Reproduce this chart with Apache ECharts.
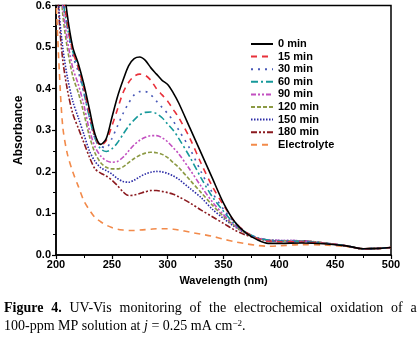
<!DOCTYPE html>
<html>
<head>
<meta charset="utf-8">
<script src="https://cdn.jsdelivr.net/npm/echarts@6/dist/echarts.min.js"></script>
<style>html,body{margin:0;padding:0;background:#fff;}#c{width:420px;height:342px;}</style>
</head>
<body>
<div id="c"></div>
<script>
const wavelengths = [200,203,206,210,215,220,225,230,235,240,245,250,255,260,265,270,275,280,285,290,295,300,305,310,320,330,340,350,360,370,380,390,400,420,440,460,475,490,500];
const seriesNames = ['0 min','15 min','30 min','60 min','90 min','120 min','150 min','180 min','Electrolyte'];
const min0   = [0.90,0.80,0.68,0.58,0.50,0.46,0.41,0.35,0.29,0.266,0.28,0.33,0.38,0.42,0.455,0.472,0.476,0.468,0.45,0.435,0.42,0.41,0.39,0.365,0.305,0.245,0.185,0.125,0.08,0.053,0.037,0.028,0.028,0.029,0.027,0.022,0.015,0.016,0.018];
const min15  = [0.85,0.75,0.64,0.56,0.49,0.45,0.40,0.34,0.285,0.263,0.275,0.31,0.35,0.39,0.415,0.43,0.435,0.432,0.42,0.40,0.385,0.37,0.35,0.33,0.28,0.22,0.165,0.12,0.08,0.055,0.04,0.033,0.032,0.031,0.028,0.022,0.015,0.016,0.018];
const min30  = [0.85,0.74,0.63,0.55,0.48,0.44,0.39,0.33,0.28,0.262,0.258,0.28,0.31,0.34,0.365,0.385,0.393,0.393,0.385,0.37,0.355,0.34,0.322,0.30,0.255,0.20,0.15,0.11,0.078,0.055,0.04,0.034,0.033,0.032,0.028,0.022,0.015,0.016,0.018];
const min60  = [0.85,0.74,0.62,0.55,0.49,0.45,0.39,0.33,0.28,0.255,0.249,0.255,0.27,0.29,0.31,0.325,0.337,0.343,0.344,0.34,0.33,0.315,0.30,0.28,0.235,0.185,0.14,0.105,0.075,0.055,0.042,0.036,0.034,0.033,0.029,0.022,0.015,0.016,0.018];
const min90  = [0.82,0.72,0.60,0.52,0.45,0.41,0.36,0.30,0.26,0.238,0.227,0.223,0.225,0.235,0.25,0.265,0.276,0.283,0.287,0.287,0.282,0.272,0.258,0.243,0.205,0.165,0.128,0.097,0.072,0.053,0.042,0.036,0.035,0.034,0.029,0.022,0.015,0.016,0.018];
const min120 = [0.80,0.70,0.58,0.50,0.43,0.39,0.34,0.285,0.245,0.222,0.211,0.207,0.207,0.212,0.222,0.232,0.24,0.245,0.247,0.246,0.242,0.234,0.222,0.21,0.18,0.15,0.12,0.093,0.07,0.052,0.041,0.035,0.034,0.034,0.029,0.022,0.015,0.016,0.018];
const min150 = [0.75,0.58,0.50,0.43,0.37,0.33,0.29,0.25,0.225,0.21,0.203,0.195,0.184,0.177,0.175,0.18,0.188,0.195,0.199,0.201,0.20,0.196,0.19,0.182,0.16,0.138,0.11,0.088,0.068,0.052,0.041,0.036,0.035,0.034,0.029,0.022,0.015,0.016,0.018];
const min180 = [0.72,0.56,0.47,0.40,0.34,0.305,0.27,0.235,0.207,0.197,0.19,0.18,0.167,0.152,0.143,0.144,0.148,0.152,0.155,0.155,0.153,0.15,0.146,0.14,0.125,0.108,0.092,0.076,0.06,0.048,0.04,0.035,0.034,0.034,0.029,0.022,0.015,0.016,0.018];
const electrolyte = [0.62,0.44,0.31,0.245,0.20,0.165,0.13,0.108,0.09,0.08,0.072,0.066,0.062,0.06,0.059,0.059,0.06,0.061,0.062,0.063,0.063,0.063,0.062,0.06,0.055,0.05,0.045,0.038,0.032,0.027,0.023,0.021,0.022,0.025,0.024,0.02,0.015,0.016,0.018];
const xTicks = [200,250,300,350,400,450,500];
const yTicks = [0.0,0.1,0.2,0.3,0.4,0.5,0.6];

const allValues = [min0,min15,min30,min60,min90,min120,min150,min180,electrolyte];
const colors = ['#000000','#e8303a','#4a5ab8','#16999a','#c24fc0','#8c9a44','#2b2ba6','#8b1a1f','#f28a4a'];
const dashes = ['solid',[6,5],[2,5],[7,3,2,3],[5,2,2,2,2,2],[4,2],[1.5,1.5],[6,2,2,2,2,2],[6,5]];

const series = seriesNames.map((n,i)=>({
  name:n, type:'line', smooth:0.3, symbol:'none', clip:true,
  lineStyle:{color:colors[i], width:1.6, type:dashes[i]},
  itemStyle:{color:colors[i]},
  data: wavelengths.map((w,k)=>[w, allValues[i][k]]),
  z: 10 - i
}));

const chart = echarts.init(document.getElementById('c'), null, {renderer:'canvas'});
const lblFont = {fontFamily:'Liberation Sans, Arial', fontWeight:'bold', fontSize:11, color:'#000'};
const g = '{g| }';
chart.setOption({
  animation:false,
  backgroundColor:'#fff',
  grid:{left:56, right:29, top:4, bottom:87, show:true, borderColor:'#000', borderWidth:1.5},
  legend:{
    orient:'vertical', left:250, top:38, padding:0, itemWidth:22, itemHeight:10, itemGap:0.6,
    itemStyle:{opacity:0},
    data: seriesNames,
    textStyle:{fontFamily:'Liberation Sans, Arial', fontWeight:'bold', fontSize:11, color:'#000', lineHeight:12}
  },
  xAxis:{
    type:'value', min:200, max:500, interval:50,
    name:'Wavelength (nm)', nameLocation:'middle', nameGap:20,
    nameTextStyle:{...lblFont, fontSize:11},
    axisLine:{show:true, lineStyle:{color:'#000', width:1.5}},
    axisTick:{show:true, length:4, lineStyle:{color:'#000', width:1.2}},
    minorTick:{show:true, splitNumber:2, length:3, lineStyle:{color:'#000', width:1}},
    axisLabel:{...lblFont, margin:4, formatter:v=>xTicks.includes(v)?String(v):''},
    splitLine:{show:false}
  },
  yAxis:{
    type:'value', min:0, max:0.6, interval:0.1,
    name:'Absorbance', nameLocation:'middle', nameGap:28, nameRotate:90,
    nameTextStyle:{...lblFont, fontSize:12},
    axisLine:{show:true, lineStyle:{color:'#000', width:1.5}},
    axisTick:{show:true, length:4, lineStyle:{color:'#000', width:1.2}},
    minorTick:{show:true, splitNumber:2, length:3, lineStyle:{color:'#000', width:1}},
    axisLabel:{...lblFont, margin:5, formatter:v=>{const t=yTicks.find(y=>Math.abs(y-v)<1e-6);return t===undefined?'':t.toFixed(1);}},
    splitLine:{show:false}
  },
  series: series,
  graphic:[
    {type:'text', left:4, top:301, style:{
      text:'{b|Figure}'+g+'{b|4.}'+g+'UV-Vis'+g+'monitoring'+g+'of'+g+'the'+g+'electrochemical'+g+'oxidation'+g+'of'+g+'a',
      font:'14px "Liberation Serif", "Times New Roman", serif', fill:'#000',
      rich:{b:{fontFamily:'Liberation Serif', fontWeight:'bold', fontSize:14, fill:'#000'},
            g:{width:7.8, fontSize:14}}
    }},
    {type:'text', left:4, top:319, style:{
      text:'100-ppm MP solution at {i|j} = 0.25 mA cm{s|−2}.',
      font:'14px "Liberation Serif", "Times New Roman", serif', fill:'#000',
      rich:{i:{fontFamily:'Liberation Serif', fontStyle:'italic', fontSize:14, fill:'#000'},
            s:{fontFamily:'Liberation Serif', fontSize:9, fill:'#000', verticalAlign:'top', padding:[0,0,6,0]}}
    }}
  ]
});
</script>
</body>
</html>
